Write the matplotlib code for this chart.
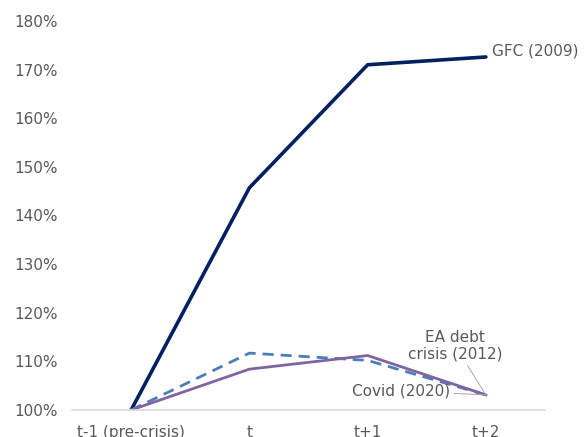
import matplotlib
matplotlib.use('Agg')
from matplotlib import pyplot as plt
from matplotlib import rcParams
from matplotlib.ticker import PercentFormatter

rcParams['font.family'] = 'DejaVu Sans'
rcParams['font.size'] = 11

# data: index relative to pre-crisis year (100%)
periods = ['t-1 (pre-crisis)', 't', 't+1', 't+2']
gfc_2009 = [100, 145.7, 171.0, 172.6]
covid_2020 = [100, 111.7, 110.2, 103.1]
ea_debt_2012 = [100, 108.4, 111.2, 103.1]

text_grey = '#595959'

fig = plt.figure(figsize=(5.87, 4.37), dpi=100)
ax = fig.add_axes([72/587, 1 - 410/437, (545-72)/587, (410-21)/437])

x = range(len(periods))
ax.plot(x, gfc_2009, color='#002060', lw=2.6, solid_capstyle='round')
ax.plot(x, covid_2020, color='#4a7ebb', lw=2.0, ls=(0, (4, 2.5)))
ax.plot(x, ea_debt_2012, color='#8064a2', lw=2.0)

ax.set_xlim(-0.5, 3.5)
ax.set_ylim(100, 180)
ax.set_yticks(range(100, 181, 10))
ax.yaxis.set_major_formatter(PercentFormatter(decimals=0))
ax.set_xticks(list(x))
ax.set_xticklabels(periods)
ax.tick_params(axis='both', length=0, colors=text_grey, labelsize=11)
ax.tick_params(axis='y', pad=10)
ax.tick_params(axis='x', pad=11)

for side in ['top', 'right', 'left']:
    ax.spines[side].set_visible(False)
ax.spines['bottom'].set_color('#d9d9d9')
ax.spines['bottom'].set_linewidth(1.2)

# series labels
ax.annotate('GFC (2009)', xy=(3, gfc_2009[3]), xytext=(4.5, 4.5),
            textcoords='offset points', ha='left', va='center', color=text_grey)
ax.annotate('EA debt\ncrisis (2012)', xy=(3, ea_debt_2012[3]), xytext=(-22, 24),
            textcoords='offset points', ha='center', va='bottom', color=text_grey,
            linespacing=1.1,
            arrowprops=dict(arrowstyle='-', color='#a6a6a6', lw=0.7, shrinkA=1, shrinkB=0))
ax.annotate('Covid (2020)', xy=(3, covid_2020[3]), xytext=(-26, 3),
            textcoords='offset points', ha='right', va='center', color=text_grey,
            arrowprops=dict(arrowstyle='-', color='#a6a6a6', lw=0.7, shrinkA=1, shrinkB=0))

fig.savefig('out.png', dpi=100)
